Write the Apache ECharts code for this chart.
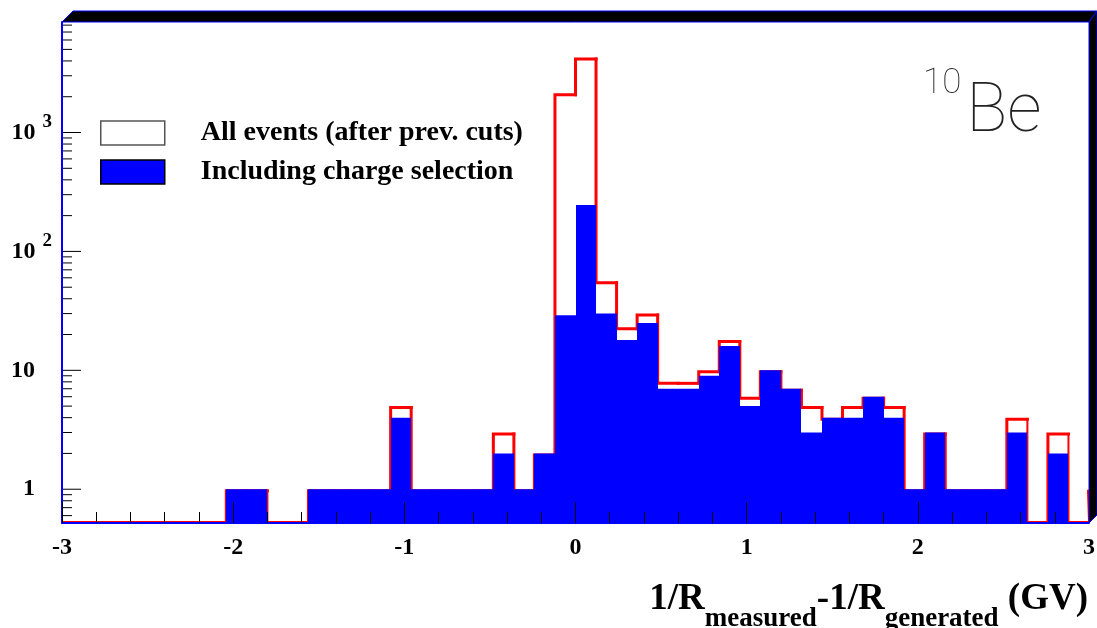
<!DOCTYPE html>
<html>
<head>
<meta charset="utf-8">
<script src="https://cdn.jsdelivr.net/npm/echarts@6/dist/echarts.min.js"></script>
<style>
html,body{margin:0;padding:0;background:#fff;}
#chart{width:1097px;height:628px;}
</style>
</head>
<body>
<div id="chart"></div>
<script>
// ---- data ----
const binStart = -3;
const binWidth = 0.12;
// counts per bin (50 bins, -3 .. 3)
const allEvents = [0,0,0,0,0,0,0,0, 1,1, 0,0, 1,1,1,1, 5, 1,1,1,1, 3, 1, 2,
  2140,4265,56,23,30,8,8,10,18,6,10,7,5,4,5,6,5,1,3,1,1,1,4,0,3,0];
const chargeSel = [0,0,0,0,0,0,0,0, 1,1, 0,0, 1,1,1,1, 4, 1,1,1,1, 2, 1, 2,
  29,246,30,18,25,7,7,9,16,5,10,7,3,4,4,6,4,1,3,1,1,1,3,0,2,0];
const allEventsOverflow = 1;
const xTicks = [-3,-2,-1,0,1,2,3];
const yMajor = [1,10,100,1000];
const yMinorMantissa = [2,3,4,5,6,7,8,9];
const yMinorDecades = [0.1,1,10,100,1000];
const seriesNames = ['All events (after prev. cuts)','Including charge selection'];

const yMin = 0.52, yMax = 8500;
const xMin = -3, xMax = 3;

const redData = allEvents.map((v,i)=>[binStart+i*binWidth, binStart+(i+1)*binWidth, v, i>0?allEvents[i-1]:0, i===allEvents.length-1?1:0]);
const blueData = chargeSel.map((v,i)=>[binStart+i*binWidth, binStart+(i+1)*binWidth, v]);

const tickData = [];
yMajor.forEach(v=>tickData.push([v,1]));
yMinorDecades.forEach(d=>yMinorMantissa.forEach(m=>{const v=+(m*d).toPrecision(6); if(v>yMin && v<yMax) tickData.push([v,0]);}));

const serif = '"Liberation Serif","Times New Roman",serif';

const chart = echarts.init(document.getElementById('chart'), null, {renderer:'canvas'});

function yPix(api, v, bottom){
  if (v <= 0) return bottom - 1;
  return Math.min(api.coord([xMin, v])[1] + 1.5, bottom - 1);
}

const option = {
  animation:false,
  backgroundColor:'#fff',
  title:{
    text:'{sup|10}{be|Be}',
    left:918, top:62,
    textStyle:{
      rich:{
        sup:{fontFamily:'Roboto',fontWeight:100,fontSize:35,color:'#222',padding:[0,5,58,0],verticalAlign:'middle'},
        be:{fontFamily:'Roboto',fontWeight:100,fontSize:68,color:'#222',verticalAlign:'middle'}
      }
    }
  },
  legend:{
    orient:'vertical',
    left:95, top:114,
    itemWidth:64, itemHeight:24, itemGap:11,
    selectedMode:false,
    textStyle:{fontFamily:serif,fontWeight:'bold',fontSize:28,color:'#000',padding:[0,0,0,31]},
    data:[
      {name:seriesNames[0],icon:'rect',itemStyle:{color:'#fff',borderColor:'#555',borderWidth:1.5}},
      {name:seriesNames[1],icon:'rect',itemStyle:{color:'#0000ff',borderColor:'#000',borderWidth:1.5}}
    ]
  },
  grid:{left:62,right:8,top:22,bottom:105,containLabel:false,outerBoundsMode:'none'},
  xAxis:{
    type:'value', min:xMin, max:xMax, interval:1, z:10,
    axisLine:{show:true,onZero:false,lineStyle:{color:'#0000ff',width:2}},
    axisTick:{show:true,inside:true,length:21,lineStyle:{color:'#000',width:1}},
    minorTick:{show:true,splitNumber:5,length:11,lineStyle:{color:'#000',width:1}},
    splitLine:{show:false},
    axisLabel:{fontFamily:serif,fontWeight:'bold',fontSize:24,color:'#000',margin:13,showMinLabel:true,showMaxLabel:true,
      formatter:v=>String(v)},
    name:'{m|1/R}{s|measured}{m|-1/R}{s|generated}{m| (GV)}',
    nameLocation:'end', nameGap:-1, nameMoveOverlap:false,
    nameTextStyle:{align:'right',verticalAlign:'top',padding:[56,0,0,0],
      rich:{
        m:{fontFamily:serif,fontWeight:'bold',fontSize:37,color:'#000',lineHeight:40,verticalAlign:'middle'},
        s:{fontFamily:serif,fontWeight:'bold',fontSize:27,color:'#000',lineHeight:20,padding:[40,0,0,0],verticalAlign:'middle'}
      }}
  },
  yAxis:{
    type:'log', logBase:10, min:yMin, max:yMax, z:10,
    axisLine:{show:true,onZero:false,lineStyle:{color:'#0000ff',width:2}},
    axisTick:{show:false},
    minorTick:{show:false},
    splitLine:{show:false},
    axisLabel:{
      margin:10,
      formatter:function(v){
        const l = Math.log10(v), e = Math.round(l);
        if (Math.abs(l-e) > 1e-6 || e < 0) return '';
        if (e === 0) return '{n|1}{pad|}';
        if (e === 1) return '{n|10}{pad|}';
        return '{n|10}{sup|' + e + '}';
      },
      rich:{
        n:{fontFamily:serif,fontWeight:'bold',fontSize:24,color:'#000',verticalAlign:'middle'},
        pad:{width:17},
        sup:{fontFamily:serif,fontWeight:'bold',fontSize:19,color:'#000',padding:[0,0,20,7],verticalAlign:'middle'}
      }
    }
  },
  series:[
    {
      name:seriesNames[0], type:'custom', z:3, clip:true,
      itemStyle:{color:'#ff0000'},
      encode:{x:[0,1], y:2},
      renderItem:function(params, api){
        const cs = params.coordSys;
        const bottom = cs.y + cs.height;
        const x0 = api.coord([api.value(0), yMin])[0];
        const x1 = api.coord([api.value(1), yMin])[0];
        const y = yPix(api, api.value(2), bottom);
        const yp = yPix(api, api.value(3), bottom);
        const pts = [[x0,yp],[x0,y],[x1,y]];
        if (api.value(4) === 1) pts.push([x1-1, yPix(api, allEventsOverflow, bottom)]);
        const w = api.value(2) > 0 ? 3 : 2;
        return {type:'polyline', shape:{points:pts}, style:{stroke:'#ff0000',lineWidth:w,fill:null,lineJoin:'miter',lineCap:'square'}};
      },
      data:redData
    },
    {
      name:seriesNames[1], type:'custom', z:4, clip:true,
      itemStyle:{color:'#0000ff'},
      encode:{x:[0,1], y:2},
      renderItem:function(params, api){
        const v = api.value(2);
        if (!(v > 0)) return null;
        const p0 = api.coord([api.value(0), v]);
        const p1 = api.coord([api.value(1), yMin]);
        const xa = Math.round(p0[0]), xb = Math.round(p1[0]);
        return {type:'rect', shape:{x:xa, y:p0[1], width:xb-xa, height:p1[1]-p0[1]}, style:{fill:'#0000ff'}};
      },
      data:blueData
    },
    {
      name:'yticks', type:'custom', z:10, silent:true,
      encode:{y:0},
      renderItem:function(params, api){
        const p = api.coord([xMin, api.value(0)]);
        const len = api.value(1) === 1 ? 19 : 10;
        return {type:'line', shape:{x1:p[0], y1:p[1], x2:p[0]+len, y2:p[1]}, style:{stroke:'#000', lineWidth:1}};
      },
      data:tickData.map(t=>[t[0],t[1]])
    }
  ],
  graphic:[
    {type:'polygon', z:100, shape:{points:[[62,22],[73,11],[1097,11],[1089,22]]}, style:{fill:'#000',stroke:'#0000ff',lineWidth:1}},
    {type:'polygon', z:100, shape:{points:[[1089,22],[1097,11],[1097,515],[1089,523]]}, style:{fill:'#000',stroke:'#0000ff',lineWidth:1}}
  ]
};
chart.setOption(option);
</script>
</body>
</html>
